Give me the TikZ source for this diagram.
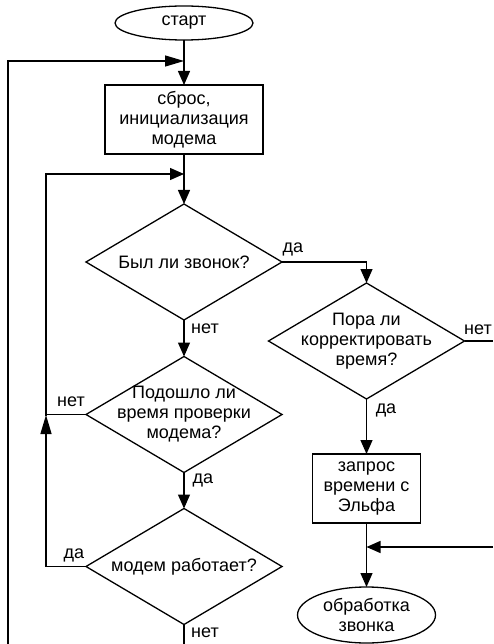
\documentclass[tikz,border=0pt]{standalone}
\usepackage{fontspec}
\setmainfont{Liberation Sans}
\usetikzlibrary{shapes.geometric,arrows.meta}
\begin{document}
\begin{tikzpicture}[x=1pt,y=-1pt,
  every node/.style={font=\fontsize{18}{20}\selectfont, outer sep=0pt},
  line/.style={line width=1.3pt},
  arr/.style={line width=1.3pt, -{Triangle[length=14pt,width=12pt]}},
  arrlong/.style={line width=1.3pt, -{Triangle[length=19pt,width=11pt]}},
  term/.style={ellipse, draw, line width=1.3pt, inner sep=0pt, align=center},
  proc/.style={rectangle, draw, line width=1.3pt, inner sep=0pt, align=center},
  decision/.style={diamond, draw, line width=1.3pt, inner sep=-25pt, align=center,
    minimum width=196pt, minimum height=116pt, aspect=1.69},
  lbl/.style={inner sep=0pt}]
\useasboundingbox (0,0) rectangle (493,644);
% nodes
\node[term, minimum width=138pt, minimum height=34pt] (start) at (184,23) {старт};
\node[proc, minimum width=158pt, minimum height=69pt] (reset) at (184,119.5) {сброс,\\инициализация\\модема};
\node[decision] (d1) at (184,262) {Был ли звонок?};
\node[decision] (d2) at (366.5,341) {Пора ли\\корректировать\\время?};
\node[decision] (d3) at (184,414.5) {Подошло ли\\время проверки\\модема?};
\node[decision] (d4) at (184,566.5) {модем работает?};
\node[proc, minimum width=108pt, minimum height=69pt] (req) at (366.5,488.5) {запрос\\времени с\\Эльфа};
\node[term, minimum width=138pt, minimum height=56pt] (proc) at (366.5,615) {обработка\\звонка};
% coordinates
\coordinate (outerL) at (8,644);
\coordinate (outerJ) at (184,61);
\coordinate (innerJ) at (184,174);
\coordinate (leftX) at (46,415);
\coordinate (d1r) at (366.5,262);
\coordinate (d2out) at (493,341);
\coordinate (mergeR) at (493,547);
\coordinate (mergeJ) at (366.5,547);
\coordinate (d4out) at (184,644);
% connectors
\draw[line] (start.south) -- (outerJ);
\draw[arr] (outerJ) -- (reset.north);
\draw[arrlong] (outerL) |- (outerJ);
\draw[line] (reset.south) -- (innerJ);
\draw[arr] (innerJ) -- (d1.north);
\draw[line] (d3.west) -| (leftX);
\draw[arr] (leftX) |- (innerJ);
\draw[arrlong] (d4.west) -| (leftX);
\draw[arr] (d1.east) -| (d2.north);
\draw[arr] (d1.south) -- (d3.north);
\draw[arr] (d3.south) -- (d4.north);
\draw[line] (d4.south) -- (d4out);
\draw[line] (d2.east) -- (d2out);
\draw[arr] (d2.south) -- (req.north);
\draw[line] (req.south) -- (mergeJ);
\draw[arr] (mergeR) -- (mergeJ);
\draw[arr] (mergeJ) -- (proc.north);
% labels
\node[lbl] (l1) at (293,249) {да};
\node[lbl] (l2) at (205,329) {нет};
\node[lbl] (l3) at (478,330) {нет};
\node[lbl] (l4) at (386,410) {да};
\node[lbl] (l5) at (71,402) {нет};
\node[lbl] (l6) at (203,480) {да};
\node[lbl] (l7) at (74,555) {да};
\node[lbl] (l8) at (205,633) {нет};
\end{tikzpicture}
\end{document}
